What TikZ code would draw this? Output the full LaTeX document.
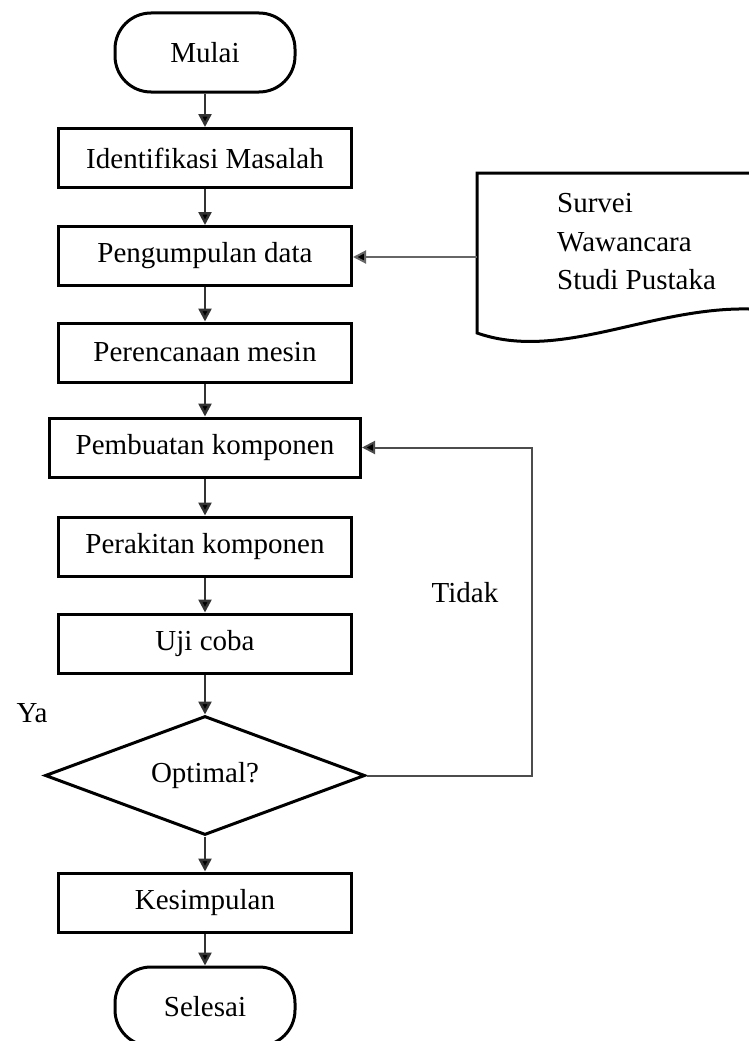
\documentclass[tikz,border=0pt]{standalone}
\usepackage{fontspec}
\setmainfont{Liberation Serif}
\usetikzlibrary{arrows.meta,shapes.geometric}
\begin{document}
\begin{tikzpicture}[x=1pt,y=-1pt,
  every node/.style={font=\fontsize{29}{38.5}\selectfont, inner sep=0pt},
  procbox/.style={draw=black, line width=3pt, minimum width=293pt, minimum height=59pt},
  termbox/.style={draw=black, line width=3pt, minimum width=180pt, minimum height=79pt, rounded corners=36pt},
  decbox/.style={draw=black, diamond, line width=3pt, minimum width=320pt, minimum height=119pt, aspect=2.69},
  flow/.style={draw=black!80, line width=2.5pt, -{Triangle[length=13pt,width=13pt,fill=black]}},
  feed/.style={draw=black!60, line width=2pt, -{Triangle[length=13pt,width=13pt,fill=black]}},
  docline/.style={draw=black, line width=3pt, line join=miter}
]
\clip (0,0) rectangle (749,1041);
\fill[white] (0,0) rectangle (749,1041);

\node[termbox] (mulai) at (205,52.5) {Mulai};
\node[procbox] (ident) at (205,158) {Identifikasi Masalah};
\node[procbox] (kumpul) at (205,256) {Pengumpulan data};
\node[procbox] (rencana) at (205,352.5) {Perencanaan mesin};
\node[procbox, minimum width=311pt] (buat) at (205,447.5) {Pembuatan komponen};
\node[procbox] (rakit) at (205,546.5) {Perakitan komponen};
\node[procbox] (uji) at (205,643.5) {Uji coba};
\node[decbox] (opt) at (205,775.5) {Optimal?};
\node[procbox] (simpul) at (205,902.5) {Kesimpulan};
\node[termbox] (selesai) at (205,1006.5) {Selesai};

% document shape
\draw[docline] (760,173) -- (477,173) -- (477,333)
  .. controls (560,362) and (650,307) .. (749,309) -- (760,309);
\node[anchor=west, align=left] (doctext) at (557,242) {Survei\\Wawancara\\Studi Pustaka};
\coordinate (docin) at (477,257);

\node (tidak) at (465,593) {Tidak};
\node (ya) at (32,713) {Ya};

\draw[flow] (mulai) -- (ident);
\draw[flow] (ident) -- (kumpul);
\draw[flow] (kumpul) -- (rencana);
\draw[flow] (rencana) -- (buat);
\draw[flow] (buat) -- (rakit);
\draw[flow] (rakit) -- (uji);
\draw[flow] (uji) -- (opt);
\draw[flow] (opt) -- (simpul);
\draw[flow] (simpul) -- (selesai);

\draw[feed] (docin) -- (docin -| kumpul.east);
\coordinate (loopc) at (532,600);
\draw[feed, draw=black!70] (opt.east) -| (loopc) |- (buat.east);
\end{tikzpicture}
\end{document}
